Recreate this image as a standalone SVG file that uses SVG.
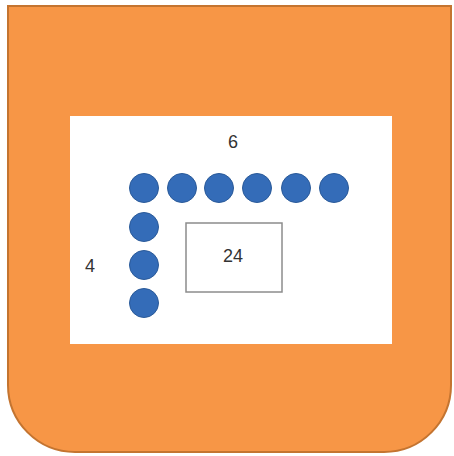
<svg xmlns="http://www.w3.org/2000/svg" width="454" height="456" viewBox="0 0 454 456">
<style>
.dot{fill:#346cb8;stroke:#2a5a99;stroke-width:1}
.lbl{font-family:"Liberation Sans",Arial,sans-serif;font-size:18px;fill:#333333;text-anchor:middle;dominant-baseline:central}
</style>
<g id="frame">
<path d="M8,6 H451 V385 A67,67 0 0 1 384,452 H75 A67,67 0 0 1 8,385 Z" fill="#f79646" stroke="#c47430" stroke-width="2"/>
<rect x="70" y="116" width="322" height="228" fill="#ffffff"/>
</g>
<g id="label-6"><text class="lbl" x="233" y="142">6</text></g>
<g id="label-4"><text class="lbl" x="90" y="266">4</text></g>
<g id="dots">
<circle class="dot" cx="144" cy="188" r="14.5"/>
<circle class="dot" cx="182" cy="188" r="14.5"/>
<circle class="dot" cx="219" cy="188" r="14.5"/>
<circle class="dot" cx="257" cy="188" r="14.5"/>
<circle class="dot" cx="296" cy="188" r="14.5"/>
<circle class="dot" cx="334" cy="188" r="14.5"/>
<circle class="dot" cx="144" cy="227" r="14.5"/>
<circle class="dot" cx="144" cy="265" r="14.5"/>
<circle class="dot" cx="144" cy="303" r="14.5"/>
</g>
<g id="box-24">
<rect x="186" y="223" width="96" height="69" fill="#ffffff" stroke="#8c8c8c" stroke-width="1.5"/>
<text class="lbl" x="233" y="256">24</text>
</g>
</svg>
